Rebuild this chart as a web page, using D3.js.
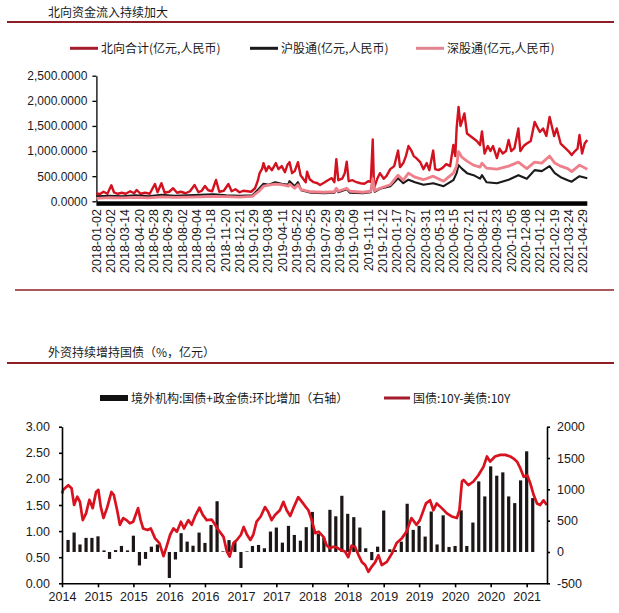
<!DOCTYPE html>
<html><head><meta charset="utf-8">
<script src="https://cdn.jsdelivr.net/npm/d3@7"></script>
<style>
body{margin:0;background:#fff;}
svg{display:block;}
</style></head><body>
<svg id="c" width="619" height="613"></svg>
<script>
// ---------------- DATA ----------------
const titleTop = "北向资金流入持续加大";
const titleBottom = "外资持续增持国债（%，亿元）";
const topSeriesNames = ["北向合计(亿元,人民币)", "沪股通(亿元,人民币)", "深股通(亿元,人民币)"];
const topYTicks = [0, 500, 1000, 1500, 2000, 2500];
const topTickIdx = [0,22,44,66,88,110,132,154,176,198,220,242,264,286,308,330,352,374,396,418,440,462,484,506,528,550,572,594,616,638,660,682,704,726,748];
const topTickLabels = ["2018-01-02","2018-02-02","2018-03-14","2018-04-20","2018-05-28","2018-06-29","2018-08-02","2018-09-04","2018-10-18","2018-11-20","2018-12-21","2019-01-29","2019-03-08","2019-04-11","2019-05-22","2019-06-25","2019-07-29","2019-08-29","2019-10-09","2019-11-11","2019-12-12","2020-01-17","2020-02-27","2020-03-31","2020-05-13","2020-06-15","2020-07-21","2020-08-21","2020-09-23","2020-11-05","2020-12-08","2021-01-12","2021-02-19","2021-03-24","2021-04-29"];
const topLastIdx = 755;

// 北向合计 (trading-day index, value)
const totalIdx = [0,5,11,17,23,27,33,39,45,52, 58,62,68,75,82,90,94,100,105,112, 118,124,130,137,144,151,157,162,167,172, 178,184,189,196,203,208,214,220,226,232, 238,244,248,251,255,257,261,265,270,276, 280,285,290,294,297,301,305,310,314,318, 322,324,328,334,340,344,350,356,362,366, 369,372,378,382,385,388,394,400,406,412, 418,422,425,427,432,436,442,446,452,458, 464,467,472,476,480,484,488,492,498,503, 508,512,518,521,526,532,538,544,549,552, 554,557,560,563,566,570,575,580,585,590, 593,597,602,606,610,616,620,625,630,634, 638,643,649,652,657,662,668,674,678,682, 687,692,697,700,704,708,714,718,722,726, 731,736,740,743,747,751,755];
const totalVal = [160,140,190,150,320,180,150,170,150,200, 160,225,150,170,150,345,180,360,170,190, 260,170,190,160,200,325,180,210,305,220, 200,425,190,210,345,200,240,180,210,200, 190,260,400,560,650,760,600,700,620,760, 640,700,580,730,780,560,600,780,520,450, 380,590,440,380,360,325,370,420,460,380, 840,420,450,560,790,400,420,380,360,350, 400,390,1230,260,450,560,450,500,640,700, 1010,680,760,900,1100,1020,900,860,780,640, 760,620,1010,640,620,660,740,700,1120,900, 1450,1880,1500,1620,1750,1350,1300,1250,1200,1120, 1390,950,1100,1000,1100,860,1050,950,1000,1220, 1000,1060,1450,1000,1100,1150,1200,1580,1480,1380, 1450,1300,1680,1520,1300,1450,1150,1100,1050,1000, 920,1000,1050,1320,950,1150,1220];
// 沪股通 / 深股通 (shared trading-day index)
const subIdx = [0,20,40,60,80,100,120,140,160,180, 200,220,240,250,257,265,275,285,295,297, 305,310,315,330,350,366,369,372,385,390, 410,422,425,428,436,452,464,472,480,490, 503,518,534,549,554,557,562,570,580,590, 593,600,616,634,649,662,674,685,697,705, 714,725,731,743,755];
const shVal = [100,110,100,120,100,130,110,120,130,140, 120,110,120,250,350,330,380,350,330,400, 300,380,220,170,160,170,250,180,240,170, 160,180,420,190,250,300,460,360,430,380, 330,360,300,420,560,720,650,560,520,450, 520,380,360,430,520,450,620,600,700,560, 480,420,390,500,460];
const szVal = [60,75,70,80,70,90,80,85,90,100, 95,85,100,200,300,320,340,330,300,340, 260,330,230,190,180,190,260,200,260,200, 180,200,450,210,260,330,520,420,560,480, 430,500,400,560,700,990,880,800,720,680, 760,660,640,700,780,650,780,760,900,760, 700,650,590,720,640];

// Bottom chart
const bottomSeriesNames = ["境外机构:国债+政金债:环比增加（右轴）", "国债:10Y-美债:10Y"];
const leftTicks = [0, 0.5, 1, 1.5, 2, 2.5, 3];
const rightTicks = [-500, 0, 500, 1000, 1500, 2000];
const barMonths = ["2014-07","2014-08","2014-09","2014-10","2014-11","2014-12",
 "2015-01","2015-02","2015-03","2015-04","2015-05","2015-06","2015-07","2015-08","2015-09","2015-10","2015-11","2015-12",
 "2016-01","2016-02","2016-03","2016-04","2016-05","2016-06","2016-07","2016-08","2016-09","2016-10","2016-11","2016-12",
 "2017-01","2017-02","2017-03","2017-04","2017-05","2017-06","2017-07","2017-08","2017-09","2017-10","2017-11","2017-12",
 "2018-01","2018-02","2018-03","2018-04","2018-05","2018-06","2018-07","2018-08","2018-09","2018-10","2018-11","2018-12",
 "2019-01","2019-02","2019-03","2019-04","2019-05","2019-06","2019-07","2019-08","2019-09","2019-10","2019-11","2019-12",
 "2020-01","2020-02","2020-03","2020-04","2020-05","2020-06","2020-07","2020-08","2020-09","2020-10","2020-11","2020-12",
 "2021-01"];
const barValues = [192,310,120,225,225,250,
 25,-110,30,96,25,260,-215,-110,85,120,5,-415,
 -120,300,165,100,310,145,430,810,10,190,170,-256,
 10,96,112,59,326,390,149,417,272,181,396,640,
 290,230,673,570,897,609,556,390,59,-130,85,662,
 43,30,165,770,353,417,246,646,120,585,80,96,
 665,96,470,1127,887,1367,1218,1271,887,780,1143,1607,
 860];
const lineDates = ["2014-07-01","2014-07-07","2014-08-02","2014-08-19","2014-09-01","2014-09-17","2014-10-01","2014-10-15","2014-11-01","2014-11-18","2014-12-05","2014-12-22",
 "2015-01-03","2015-01-15","2015-01-29","2015-02-16","2015-03-11","2015-03-23","2015-04-09","2015-04-23","2015-05-10","2015-05-27","2015-06-13","2015-06-30","2015-07-25","2015-08-07","2015-08-20","2015-09-11","2015-09-28","2015-10-20","2015-11-11","2015-12-02","2015-12-15",
 "2016-01-05","2016-01-22","2016-02-09","2016-02-29","2016-03-16","2016-04-07","2016-04-24","2016-05-11","2016-06-03","2016-06-20","2016-07-10","2016-08-05","2016-08-22","2016-09-08","2016-10-04","2016-10-21","2016-11-04","2016-11-24","2016-12-11",
 "2017-01-01","2017-01-15","2017-02-01","2017-02-18","2017-03-05","2017-03-22","2017-04-12","2017-05-04","2017-05-20","2017-06-07","2017-06-24","2017-07-19","2017-08-06","2017-08-23","2017-09-10","2017-09-26","2017-10-21","2017-11-09","2017-11-25","2017-12-12","2017-12-29",
 "2018-01-16","2018-02-02","2018-02-27","2018-03-15","2018-04-01","2018-04-18","2018-05-05","2018-05-26","2018-06-17","2018-07-04","2018-07-21","2018-08-07","2018-08-24","2018-09-11","2018-09-28","2018-10-15","2018-11-01","2018-11-18","2018-12-05","2018-12-22",
 "2019-01-17","2019-02-12","2019-03-08","2019-04-03","2019-04-28","2019-05-23","2019-06-18","2019-07-05","2019-08-05","2019-08-26","2019-09-12","2019-09-29","2019-10-25","2019-11-20","2019-12-15",
 "2020-01-10","2020-01-23","2020-02-05","2020-02-13","2020-03-09","2020-04-04","2020-04-29","2020-05-25","2020-06-12","2020-06-28","2020-07-23","2020-08-19","2020-09-14","2020-10-09","2020-10-26","2020-11-13","2020-11-30","2020-12-17",
 "2021-01-04","2021-01-20","2021-02-06","2021-02-23","2021-03-11","2021-03-28","2021-04-14"];
const lineValues = [1.72,1.79,1.88,1.82,1.50,1.66,1.56,1.21,1.34,1.60,1.44,1.75,
 1.79,1.47,1.25,1.44,1.75,1.69,1.40,1.12,1.25,1.21,1.15,1.18,1.44,1.21,1.05,1.02,1.05,0.86,0.77,0.52,0.67,
 0.93,1.05,0.99,1.18,1.05,1.21,1.12,1.28,1.45,1.31,1.21,1.22,1.12,1.02,0.89,0.61,0.51,0.77,0.83,
 0.93,1.08,0.93,0.83,0.93,1.18,1.28,1.46,1.37,1.21,1.31,1.40,1.56,1.40,1.29,1.44,1.65,1.56,1.48,1.40,1.21,
 0.96,0.99,0.89,0.73,0.67,0.70,0.69,0.64,0.61,0.50,0.72,0.70,0.55,0.41,0.35,0.22,0.32,0.40,0.54,0.35,
 0.41,0.57,0.77,0.86,0.99,1.25,1.12,1.21,1.53,1.59,1.40,1.53,1.44,1.34,1.28,
 1.25,1.40,1.95,1.98,1.88,1.95,2.07,2.23,2.43,2.33,2.43,2.46,2.46,2.43,2.39,2.33,2.20,2.04,
 2.07,1.91,1.69,1.53,1.50,1.59,1.50];

// ---------------- DRAW ----------------
const CJK = '"Noto Sans CJK SC","Liberation Sans",sans-serif';
const LAT = '"Liberation Sans",Arial,sans-serif';
const svg = d3.select("#c");
svg.append("rect").attr("width",619).attr("height",613).attr("fill","#fff");

function title(txt, y, ruleY){
  svg.append("text").attr("x",48).attr("y",y).attr("font-family",CJK).attr("font-size",12)
    .attr("fill","#1a1a1a").text(txt);
  svg.append("line").attr("x1",7).attr("x2",614).attr("y1",ruleY).attr("y2",ruleY)
    .attr("stroke","#8e1f27").attr("stroke-width",2);
}
title(titleTop, 17, 22);
svg.append("line").attr("x1",15).attr("x2",614).attr("y1",290).attr("y2",290)
  .attr("stroke","#8e1f27").attr("stroke-width",1.6);
title(titleBottom, 357, 363);

// ---- top chart ----
const topColors = ["#d3121f", "#1a1a1a", "#ef7f8a"];
const topLegendColors = ["#a51c2c", "#1a1a1a", "#e08590"];
const topLegendX = [70, 250, 416];
topSeriesNames.forEach((n,i)=>{
  const x0 = topLegendX[i];
  svg.append("line").attr("x1",x0).attr("x2",x0+28).attr("y1",48.3).attr("y2",48.3)
    .attr("stroke",topLegendColors[i]).attr("stroke-width",3);
  svg.append("text").attr("x",x0+31).attr("y",52.8).attr("font-family",CJK).attr("font-size",12)
    .attr("fill","#1a1a1a").text(n);
});

const xT = d3.scaleLinear().domain([0, topLastIdx]).range([96.4, 587.3]);
const yT = d3.scaleLinear().domain([0, 2500]).range([201.3, 75.7]);

const yAxT = svg.append("g").attr("transform","translate(96.4,0)")
  .call(d3.axisLeft(yT).tickValues(topYTicks).tickFormat(d3.format(",.4f")).tickSize(4).tickPadding(5).tickSizeOuter(0));
yAxT.selectAll("text").attr("font-family",LAT).attr("font-size",12).attr("fill","#1a1a1a");
yAxT.selectAll("line,path").attr("stroke","#000").attr("stroke-width",1.3);

// dense daily category ticks appear as a solid black band
svg.append("rect").attr("x",xT(0)).attr("y",yT(0)).attr("width",xT(topLastIdx)-xT(0)).attr("height",4.5).attr("fill","#000");

const gx = svg.append("g");
topTickIdx.forEach((d,i)=>{
  gx.append("text").attr("transform",`translate(${xT(d)},209) rotate(-90)`)
    .attr("text-anchor","end").attr("dy","0.35em").attr("font-family",LAT).attr("font-size",12.5)
    .attr("fill","#1a1a1a").text(topTickLabels[i]);
});

const lineT = d3.line().x(d=>xT(d[0])).y(d=>yT(d[1])).curve(d3.curveLinear);
const totalData = totalIdx.map((d,i)=>[d,totalVal[i]]);
const shData = subIdx.map((d,i)=>[d,shVal[i]]);
const szData = subIdx.map((d,i)=>[d,szVal[i]]);
svg.append("path").datum(totalData).attr("d",lineT).attr("fill","none").attr("stroke",topColors[0]).attr("stroke-width",2.4).attr("stroke-linejoin","round");
svg.append("path").datum(shData).attr("d",lineT).attr("fill","none").attr("stroke",topColors[1]).attr("stroke-width",2.1).attr("stroke-linejoin","round");
svg.append("path").datum(szData).attr("d",lineT).attr("fill","none").attr("stroke",topColors[2]).attr("stroke-width",2.8).attr("stroke-linejoin","round");

// ---- bottom chart ----
const parseM = d3.timeParse("%Y-%m");
const parseD = d3.timeParse("%Y-%m-%d");
const xB = d3.scaleTime().domain([new Date(2014,6,1), new Date(2021,3,15)]).range([62, 547]);
const yL = d3.scaleLinear().domain([0,3]).range([583.3, 426.7]);
const yR = d3.scaleLinear().domain([-500,2000]).range([583.3, 426.7]);

// legend
svg.append("rect").attr("x",100).attr("y",395).attr("width",28).attr("height",6).attr("fill","#111");
svg.append("text").attr("x",131).attr("y",402.5).attr("font-family",CJK).attr("font-size",12).attr("fill","#1a1a1a").text(bottomSeriesNames[0]);
svg.append("line").attr("x1",384).attr("x2",410).attr("y1",398).attr("y2",398).attr("stroke","#a51c2c").attr("stroke-width",3);
svg.append("text").attr("x",413).attr("y",402.5).attr("font-family",CJK).attr("font-size",12).attr("fill","#1a1a1a").text(bottomSeriesNames[1]);

// bars (month-end positions)
svg.append("g").selectAll("rect").data(barMonths.map((m,i)=>({d:d3.timeMonth.offset(parseM(m),1), v:barValues[i]})))
  .join("rect")
  .attr("x",d=>xB(d.d)-1.6).attr("width",3.2)
  .attr("y",d=>yR(Math.max(0,d.v))).attr("height",d=>Math.abs(yR(d.v)-yR(0)))
  .attr("fill","#1c1616");

const lineB = d3.line().x(d=>xB(d[0])).y(d=>yL(d[1]));
const lineData = lineDates.map((d,i)=>[parseD(d), lineValues[i]]);
svg.append("path").datum(lineData).attr("d",lineB).attr("fill","none").attr("stroke","#d8121e").attr("stroke-width",2.7).attr("stroke-linejoin","round");

const axL = svg.append("g").attr("transform","translate(62,0)")
  .call(d3.axisLeft(yL).tickValues(leftTicks).tickFormat(d3.format(".2f")).tickSize(3).tickPadding(9).tickSizeOuter(0));
const axR = svg.append("g").attr("transform","translate(547,0)")
  .call(d3.axisRight(yR).tickValues(rightTicks).tickFormat(d=>String(d)).tickSize(3).tickPadding(7).tickSizeOuter(0));
const axB = svg.append("g").attr("transform","translate(0,583.3)")
  .call(d3.axisBottom(xB).ticks(d3.timeMonth.every(6)).tickFormat(d3.timeFormat("%Y")).tickSize(4).tickPadding(5).tickSizeOuter(0));
[axL,axR,axB].forEach(g=>{
  g.selectAll("text").attr("font-family",LAT).attr("font-size",12.5).attr("fill","#1a1a1a");
  g.selectAll("line,path").attr("stroke","#000").attr("stroke-width",1.6);
});
</script>
</body></html>
